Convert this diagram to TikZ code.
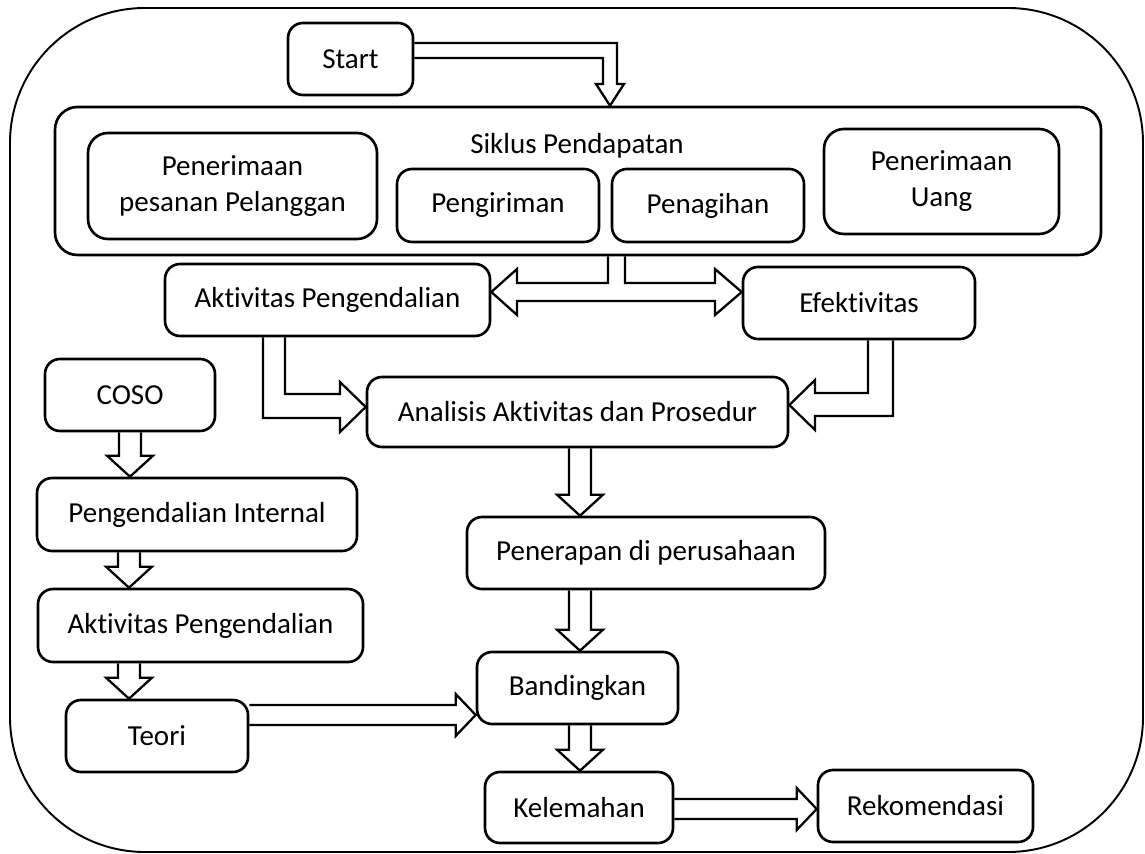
\documentclass[tikz,border=0pt]{standalone}
\usepackage{fontspec}
\setmainfont{Carlito}[Ligatures=NoCommon]
\usetikzlibrary{calc,positioning}

% block arrow pointing down: #1 = x (px), #2 = from node, #3 = to node
\newcommand{\blockdown}[3]{%
  \draw[blk] (#1-11,0 |- #2.south) -- ($(#1-11,0 |- #3.north)+(0,-21)$)
    -- ++(-12,0) -- (#1,0 |- #3.north) -- ($(#1+23,0 |- #3.north)+(0,-21)$)
    -- ++(-12,0) -- (#1+11,0 |- #2.south);}
% block arrow pointing right: #1 = y (px), #2 = from node, #3 = to node
\newcommand{\blockright}[3]{%
  \draw[blk] (#2.east |- 0,#1-10) -- ($(#3.west |- 0,#1-10)+(-20,0)$)
    -- ++(0,-11) -- (#3.west |- 0,#1) -- ($(#3.west |- 0,#1+21)+(-20,0)$)
    -- ++(0,-11) -- (#2.east |- 0,#1+10);}

\begin{document}
\begin{tikzpicture}[x=0.02cm, y=-0.02cm,
       every node/.style={font=\fontsize{16.5pt}{20.5pt}\selectfont},
       proses/.style={draw, line width=1.5pt, rounded corners=0.3cm,
                      align=center, inner sep=0pt},
       boxsize/.style 2 args={minimum width=#1*0.02cm, minimum height=#2*0.02cm},
       blk/.style={draw, line width=1.3pt, line join=miter}]

	\useasboundingbox (0,0) rectangle (1145,854);
	%% outer frame
	\draw[line width=1.1pt, rounded corners=2.7cm] (10,8) rectangle (1143,852);

	%% start and the revenue cycle
	\node[proses, boxsize={125}{72}] (start) at (350.5,59) {Start};
	\node[proses, boxsize={1046}{148}, rounded corners=0.45cm] (siklus) at (578,181) {};
	\node[anchor=base] (siklusjudul) at (577,154) {Siklus Pendapatan};
	\node[proses, boxsize={289}{106}, rounded corners=0.4cm] (pesanan) at (232.5,186)
	     {Penerimaan\\pesanan Pelanggan};
	\node[proses, boxsize={202}{73}] (kirim) at (498,205.5) {Pengiriman};
	\node[proses, boxsize={192}{73}] (tagih) at (708,205.5) {Penagihan};
	\node[proses, boxsize={235}{105}, rounded corners=0.4cm] (uang) at (941.5,181.5)
	     {Penerimaan\\Uang};

	%% right-hand flow
	\node[proses, boxsize={325}{72}] (akt1) at (327.5,300) {Aktivitas Pengendalian};
	\node[proses, boxsize={232}{72}] (efek) at (859,303) {Efektivitas};
	\node[proses, boxsize={421}{70}] (analisis) at (577.5,412) {Analisis Aktivitas dan Prosedur};
	\node[proses, boxsize={358}{72}] (terap) at (646,553) {Penerapan di perusahaan};
	\node[proses, boxsize={201}{72}] (banding) at (577.5,688) {Bandingkan};
	\node[proses, boxsize={188}{71}] (lemah) at (579,807.5) {Kelemahan};
	\node[proses, boxsize={215}{72}] (rekom) at (925.5,806) {Rekomendasi};

	%% left-hand flow
	\node[proses, boxsize={170}{72}] (coso) at (130,395) {COSO};
	\node[proses, boxsize={320}{73}] (pi) at (197,514.5) {Pengendalian Internal};
	\node[proses, boxsize={325}{73}] (akt2) at (200.5,625.5) {Aktivitas Pengendalian};
	\node[proses, boxsize={182}{72}] (teori) at (157,736) {Teori};

	%% block arrows
	\draw[blk] (start.east |- 0,43) -- (617,43) -- (617,84) -- (624,84)
	     -- (610,0 |- siklus.north) -- (596,84) -- (603,84) -- (603,58) -- (start.east |- 0,58);
	\draw[blk] (608,0 |- siklus.south) -- (608,283) -- (517,283) -- (517,269)
	     -- (akt1.east |- 0,292) -- (517,315) -- (517,301) -- (715,301) -- (715,315)
	     -- (efek.west |- 0,292) -- (715,269) -- (715,283) -- (625,283) -- (625,0 |- siklus.south);
	\draw[blk] (263,0 |- akt1.south) -- (263,418) -- (340,418) -- (340,432)
	     -- (analisis.west |- 0,407) -- (340,382) -- (340,394) -- (285,394) -- (285,0 |- akt1.south);
	\draw[blk] (893,0 |- efek.south) -- (893,416) -- (815,416) -- (815,430)
	     -- (analisis.east |- 0,405) -- (815,380) -- (815,393) -- (868,393) -- (868,0 |- efek.south);

	\blockdown{130}{coso}{pi}
	\blockdown{129}{pi}{akt2}
	\blockdown{129}{akt2}{teori}
	\blockdown{580}{analisis}{terap}
	\blockdown{580}{terap}{banding}
	\blockdown{580}{banding}{lemah}
	\blockright{715}{teori}{banding}
	\blockright{809}{lemah}{rekom}
\end{tikzpicture}
\end{document}
